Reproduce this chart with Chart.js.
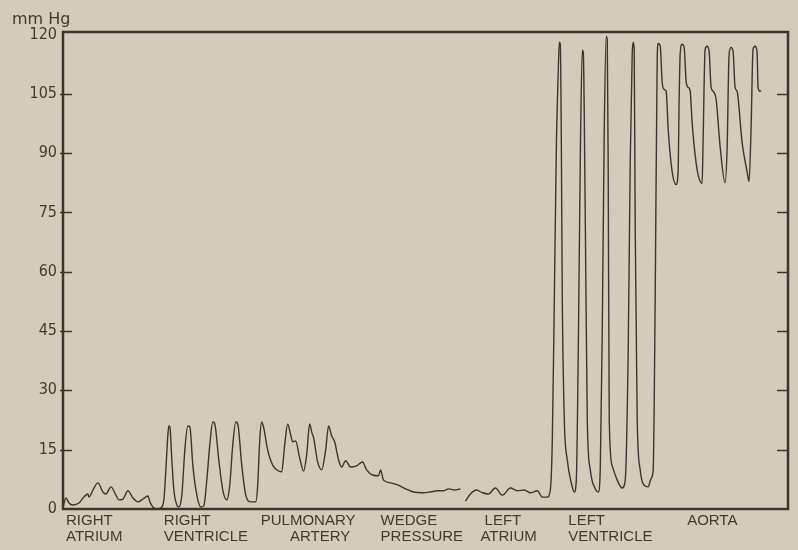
<!DOCTYPE html>
<html>
<head>
<meta charset="utf-8">
<script src="https://cdn.jsdelivr.net/npm/chart.js@4.4.1/dist/chart.umd.min.js"></script>
<style>
  html, body { margin: 0; padding: 0; background: #d5cbba; }
  canvas { display: block; }
</style>
</head>
<body>
<canvas id="myChart" width="798" height="550"></canvas>
<script>
// pressure trace: [time units, mm Hg]
const rightAtrium = [[0,0.5],[3,2.8],[6,1.5],[10,1.0],[16,1.5],[20,2.8],[25,3.8],[26,3.0],[30,4.8],[35,6.6],
  [40,4.3],[43,3.8],[48,5.6],[53,3.5],[56,2.3],[60,2.5],[65,4.6],[70,2.8],[75,1.8],[80,2.5],[85,3.3],[87,1.8],
  [90,0.5],[94,0],[98,0.3]];
const rightVentricle = [[101,2.3],[103,9.9],[105,18.7],[106,21.0],[107,20.8],[109,12.4],[111,4.8],[114,1.0],[116,0.5],
  [119,3.5],[122,14.9],[125,21.0],[127,20.8],[130,11.1],[134,3.5],[138,0.5],[141,0.8],[144,7.3],[147,16.2],
  [150,22.0],[152,21.5],[156,12.4],[160,4.8],[164,2.3],[167,6.1],[170,16.2],[173,22.0],[175,21.5],[179,11.1],
  [183,3.5],[188,1.8],[193,1.8],[195,6.1],[197,17.5]];
const pulmonaryArtery = [[199,22.0],[201,20.5],[205,14.9],[210,11.1],[216,9.6],[219,9.4],[222,16.2],[225,21.5],
  [228,18.7],[230,17.0],[233,17.2],[237,12.9],[241,9.6],[244,13.7],[247,21.5],[249,19.5],[251,18.0],[255,11.9],
  [259,9.9],[263,14.9],[266,21.0],[269,18.5],[272,17.0],[276,12.4],[279,10.6],[283,12.2],[288,10.6],[294,10.9],
  [300,11.9],[304,9.9],[310,8.6],[316,8.4],[318,9.9],[321,7.3]];
const wedgePressure = [[328,6.6],[335,6.1],[343,5.1],[351,4.3],[360,4.1],[368,4.3],[375,4.6],[381,4.6],[386,5.1],
  [392,4.8],[398,5.1]];
const leftAtrium = [[403,2.0],[408,3.8],[414,4.8],[420,4.1],[426,3.8],[433,5.3],[440,3.5],[448,5.3],[455,4.6],
  [462,4.8],[468,4.1],[475,4.6],[480,3.0],[485,3.0],[488,4.8]];
const leftVentricle = [[490,17.5],[492,52.9],[494,90.9],[496,111.2],[497,118.0],[498,117.5],[499,93.4],[500,52.9],
  [502,22.5],[505,12.4],[509,6.6],[512,4.3],[514,7.3],[516,40.3],[518,88.4],[520,116.0],[521,115.5],[523,73.2],
  [525,22.5],[528,9.9],[533,5.1],[536,4.3],[538,9.9],[540,45.3],[542,96.0],[544,119.5],[545,118.7],[546,83.3],
  [547,22.5],[550,10.9],[555,7.3],[560,5.3],[563,7.3],[566,40.3],[568,87.6],[570,115.0],[571,118.0],[572,116.2],
  [573,70.6],[575,22.5],[578,9.9],[583,5.8],[586,5.6],[589,7.8]];
const aorta = [[591,9.9],[593,52.9],[595,113.7],[596,117.7],[598,117.2],[600,107.9],[602,106.1],[604,105.6],
  [606,96.0],[610,85.3],[614,82.0],[616,85.8],[617,103.6],[618,114.9],[620,117.5],[622,116.7],[624,108.1],
  [626,106.6],[628,105.8],[630,97.7],[635,85.8],[640,82.3],[641,93.4],[643,116.2],[645,117.0],[647,115.7],
  [649,106.6],[651,105.6],[654,103.6],[658,91.7],[663,82.5],[665,90.9],[667,114.9],[669,116.7],[671,115.7],
  [673,106.6],[675,105.6],[680,92.7],[685,85.3],[687,82.8],[689,96.0],[691,116.2],[693,117.0],[695,115.7],
  [696,106.6],[698,105.6],[699,105.8]];

const regionLabels = [['RIGHT', 'ATRIUM'], ['RIGHT', 'VENTRICLE'], ['PULMONARY', '       ARTERY'],
  ['WEDGE', 'PRESSURE'], [' LEFT', 'ATRIUM'], ['LEFT', 'VENTRICLE'], ['AORTA']];
const regionStarts = [3, 101, 198, 318, 418, 506, 625];
const yTicks = [0, 15, 30, 45, 60, 75, 90, 105, 120];

const ink = '#3b352f';
const textInk = '#3f3a34';

// the tracing has a break between wedge and left atrium
const trace = [].concat(rightAtrium, rightVentricle, pulmonaryArtery, wedgePressure, [[400, null]],
  leftAtrium, leftVentricle, aorta).map(p => ({x: p[0], y: p[1]}));

//frame, inner ticks, unit label
const framePlugin = {
  id: 'frame',
  beforeDraw: chart => {
    const ctx = chart.ctx;
    ctx.save();
    ctx.fillStyle = '#d5cbba';
    ctx.fillRect(0, 0, chart.width, chart.height);
    ctx.restore();
  },
  afterDraw: chart => {
    const ctx = chart.ctx;
    const a = chart.chartArea;
    const y = chart.scales.y;
    ctx.save();
    ctx.strokeStyle = ink;
    ctx.lineWidth = 2.5;
    ctx.strokeRect(a.left, a.top, a.right - a.left, a.bottom - a.top);
    ctx.lineWidth = 1.5;
    ctx.beginPath();
    y.ticks.forEach(t => {
        if (t.value === 0 || t.value === 120) return;
        const py = Math.round(y.getPixelForValue(t.value)) + 0.5;
        ctx.moveTo(a.left - 3, py);
        ctx.lineTo(a.left + 9, py);
        ctx.moveTo(a.right - 11, py);
        ctx.lineTo(a.right, py);
    });
    ctx.stroke();
    ctx.fillStyle = textInk;
    ctx.font = "16px 'DejaVu Sans', sans-serif";
    ctx.textBaseline = 'alphabetic';
    ctx.fillText('mm Hg', 12, 24);
    ctx.restore();
  }
};

const config = {
    type: 'line',
    data: {
        datasets: [{
            data: trace,
            borderColor: ink,
            borderWidth: 1.4,
            pointRadius: 0,
            cubicInterpolationMode: 'monotone',
            spanGaps: false,
            fill: false
        }]
    },
    options: {
        responsive: false,
        animation: false,
        layout: {
            padding: {top: 32, right: 10, left: 0, bottom: 0}
        },
        scales: {
            x: {
                type: 'linear',
                min: 0,
                max: 726,
                afterBuildTicks: scale => {
                    scale.ticks = regionStarts.map(v => ({value: v}));
                },
                afterFit: scale => {
                    scale.height = 41;
                },
                ticks: {
                    autoSkip: false,
                    maxRotation: 0,
                    align: 'start',
                    padding: 3,
                    color: textInk,
                    font: {family: "'Liberation Sans', Arial, sans-serif", size: 15, lineHeight: 1.12},
                    callback: (value, index) => regionLabels[index]
                },
                grid: {display: false, drawTicks: false},
                border: {display: false}
            },
            y: {
                min: 0,
                max: 120.6,
                afterBuildTicks: scale => {
                    scale.ticks = yTicks.map(v => ({value: v}));
                },
                afterFit: scale => {
                    scale.width = 63;
                },
                ticks: {
                    padding: 6,
                    color: textInk,
                    font: {family: "'DejaVu Sans Condensed', 'DejaVu Sans', sans-serif", size: 16}
                },
                grid: {display: false, drawTicks: false},
                border: {display: false}
            }
        },
        plugins: {
            legend: {display: false},
            tooltip: {enabled: false}
        }
    },
    plugins: [framePlugin]
};

const myChart = new Chart(document.getElementById('myChart').getContext('2d'), config);
</script>
</body>
</html>
